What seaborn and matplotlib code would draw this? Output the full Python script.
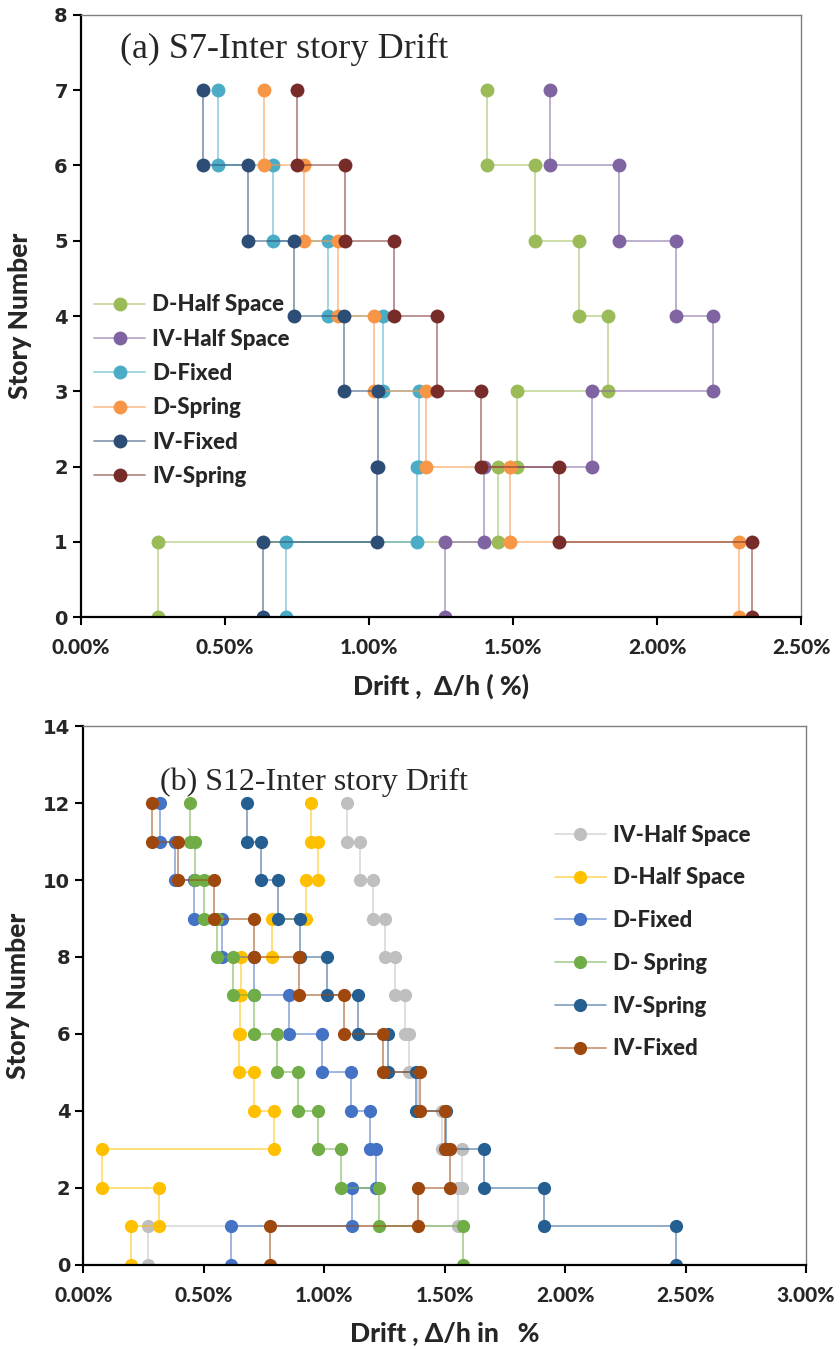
import matplotlib
matplotlib.use("Agg")
import matplotlib.pyplot as plt
import matplotlib.ticker as mticker
from matplotlib.lines import Line2D
import pandas as pd
import seaborn as sns

# ---- data: inter-story drift (%) for stories 1..n ----
s7_labels = ['D-Half Space', 'IV-Half Space', 'D-Fixed', 'D-Spring', 'IV-Fixed', 'IV-Spring']
s7_colors = ['#9BBB59', '#8064A2', '#4BACC6', '#F79646', '#2C4D75', '#772C2A']
s7_d_half = [0.267, 1.448, 1.514, 1.830, 1.729, 1.576, 1.410]
s7_iv_half = [1.264, 1.399, 1.774, 2.196, 2.066, 1.868, 1.628]
s7_d_fixed = [0.712, 1.167, 1.174, 1.048, 0.857, 0.666, 0.475]
s7_d_spring = [2.286, 1.490, 1.198, 1.019, 0.891, 0.773, 0.636]
s7_iv_fixed = [0.631, 1.028, 1.030, 0.914, 0.741, 0.579, 0.422]
s7_iv_spring = [2.329, 1.660, 1.389, 1.236, 1.088, 0.918, 0.750]

s12_labels = ['IV-Half Space', 'D-Half Space', 'D-Fixed', 'D- Spring', 'IV-Spring', 'IV-Fixed']
s12_colors = ['#BFBFBF', '#FFC000', '#4472C4', '#70AD47', '#255E91', '#9E480E']
s12_iv_half = [0.267, 1.556, 1.570, 1.490, 1.390, 1.350, 1.333, 1.295, 1.253, 1.204, 1.150, 1.093]
s12_d_half = [0.197, 0.312, 0.077, 0.789, 0.708, 0.646, 0.648, 0.652, 0.781, 0.924, 0.975, 0.944]
s12_d_fixed = [0.614, 1.114, 1.215, 1.190, 1.111, 0.989, 0.854, 0.708, 0.577, 0.458, 0.382, 0.317]
s12_d_spring = [1.577, 1.225, 1.070, 0.975, 0.892, 0.803, 0.708, 0.622, 0.553, 0.500, 0.465, 0.444]
s12_iv_spring = [2.461, 1.912, 1.664, 1.505, 1.382, 1.264, 1.139, 1.011, 0.900, 0.806, 0.736, 0.681]
s12_iv_fixed = [0.775, 1.389, 1.521, 1.500, 1.396, 1.243, 1.081, 0.896, 0.708, 0.542, 0.393, 0.285]

s7_series = [s7_d_half, s7_iv_half, s7_d_fixed, s7_d_spring, s7_iv_fixed, s7_iv_spring]
s12_series = [s12_iv_half, s12_d_half, s12_d_fixed, s12_d_spring, s12_iv_spring, s12_iv_fixed]

sns.set_style("white")
plt.rcParams['font.family'] = ['Lato', 'DejaVu Sans']
BOLD = 900


def steps(drifts):
    # each story drift runs from floor i-1 up to floor i
    xs, ys = [], []
    for i, d in enumerate(drifts):
        xs += [d, d]
        ys += [i, i + 1]
    return pd.DataFrame({'drift': xs, 'story': ys})


def draw(ax, series, colors, ms):
    handles = []
    for vals, c in zip(series, colors):
        rgba = matplotlib.colors.to_rgba(c, 0.55)
        sns.lineplot(data=steps(vals), x='drift', y='story', sort=False, estimator=None,
                     color=rgba, lw=1.3, marker='o', markersize=ms,
                     markerfacecolor=c, markeredgecolor=c, markeredgewidth=0, ax=ax)
        handles.append(Line2D([0], [0], color=rgba, lw=1.3, marker='o', markersize=ms,
                              markerfacecolor=c, markeredgecolor=c, markeredgewidth=0))
    return handles


def style(ax, xmax, ymax, ystep, ylab_x):
    ax.set_xlim(0, xmax)
    ax.set_ylim(0, ymax)
    ax.xaxis.set_major_locator(mticker.MultipleLocator(0.5))
    ax.yaxis.set_major_locator(mticker.MultipleLocator(ystep))
    ax.xaxis.set_major_formatter(mticker.FuncFormatter(lambda v, p: f"{v:.2f}%"))
    for s in ['left', 'bottom']:
        ax.spines[s].set_color('black')
        ax.spines[s].set_linewidth(1.6)
    for s in ['top', 'right']:
        ax.spines[s].set_color('#7F7F7F')
        ax.spines[s].set_linewidth(1.0)
    ax.tick_params(axis='both', direction='out', length=6, width=1.5, color='black',
                   bottom=True, left=True)
    ax.tick_params(axis='x', pad=9)
    for t in ax.get_xticklabels():
        t.set_fontweight(BOLD)
        t.set_fontsize(15)
    for t in ax.get_yticklabels():
        t.set_family('DejaVu Sans')
        t.set_fontweight('bold')
        t.set_fontsize(14)
    ax.set_ylabel('Story Number', fontsize=19, fontweight=BOLD)
    ax.yaxis.set_label_coords(ylab_x, 0.5)


fig = plt.figure(figsize=(8.4, 13.49), dpi=100)
ax1 = fig.add_axes([0.0964, 0.5426, 0.8572, 0.4463])
ax2 = fig.add_axes([0.0994, 0.0623, 0.8601, 0.3995])

h1 = draw(ax1, s7_series, s7_colors, 10)
style(ax1, 2.5, 8, 1, -0.068)
ax1.set_xlabel('Drift ,  Δ/h ( %)', fontsize=19, fontweight=BOLD, labelpad=12)
ax1.text(0.054, 0.942, '(a) S7-Inter story Drift', transform=ax1.transAxes,
         family='Liberation Serif', fontsize=26, va='center', ha='left')
ax1.legend(h1, s7_labels, loc='upper left', bbox_to_anchor=(0.0, 0.558), frameon=False,
           prop={'family': 'Lato', 'weight': BOLD, 'size': 16},
           handlelength=2.3, handletextpad=0.3, labelspacing=0.6, borderaxespad=0.2)

h2 = draw(ax2, s12_series, s12_colors, 9.5)
style(ax2, 3.0, 14, 2, -0.074)
ax2.set_xlabel('Drift , Δ/h in   %', fontsize=19, fontweight=BOLD, labelpad=12)
ax2.text(0.106, 0.896, '(b) S12-Inter story Drift', transform=ax2.transAxes,
         family='Liberation Serif', fontsize=23, va='center', ha='left')
ax2.legend(h2, s12_labels, loc='upper left', bbox_to_anchor=(0.634, 0.842), frameon=False,
           prop={'family': 'Lato', 'weight': BOLD, 'size': 16},
           handlelength=2.3, handletextpad=0.3, labelspacing=0.98, borderaxespad=0.2)

fig.savefig('out.png', dpi=100)
